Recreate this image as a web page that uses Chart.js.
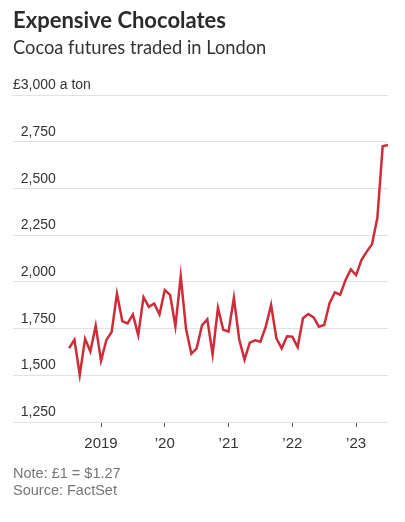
<!DOCTYPE html>
<html>
<head>
<meta charset="utf-8">
<script src="https://cdn.jsdelivr.net/npm/chart.js@4"></script>
<style>
  body { margin: 0; background: #fff; }
  #wrap { position: relative; width: 405px; height: 522px; overflow: hidden; }
  #grafica { position: absolute; left: 0; top: 0; }
  .txt { position: absolute; left: 13px; white-space: nowrap; color: #333; }
  #titulo { top: 6px; font: 700 22px "Lato", sans-serif; color: #2b2b2b; }
  #subtitulo { top: 35.5px; font: 400 18.3px "Lato", sans-serif; }
  .nota { font: 400 14.5px "Liberation Sans", sans-serif; color: #767676; }
  #nota1 { top: 465px; }
  #nota2 { top: 482px; }
</style>
</head>
<body>
<div id="wrap">
  <canvas id="grafica" width="405" height="522"></canvas>
  <div class="txt" id="titulo">Expensive Chocolates</div>
  <div class="txt" id="subtitulo">Cocoa futures traded in London</div>
  <div class="txt nota" id="nota1">Note: £1 = $1.27</div>
  <div class="txt nota" id="nota2">Source: FactSet</div>
</div>
<script>
// meses (categorias)
const meses = [
  "2018-07", "2018-08", "2018-09", "2018-10", "2018-11", "2018-12",
  "2019-01", "2019-02", "2019-03", "2019-04", "2019-05", "2019-06",
  "2019-07", "2019-08", "2019-09", "2019-10", "2019-11", "2019-12",
  "2020-01", "2020-02", "2020-03", "2020-04", "2020-05", "2020-06",
  "2020-07", "2020-08", "2020-09", "2020-10", "2020-11", "2020-12",
  "2021-01", "2021-02", "2021-03", "2021-04", "2021-05", "2021-06",
  "2021-07", "2021-08", "2021-09", "2021-10", "2021-11", "2021-12",
  "2022-01", "2022-02", "2022-03", "2022-04", "2022-05", "2022-06",
  "2022-07", "2022-08", "2022-09", "2022-10", "2022-11", "2022-12",
  "2023-01", "2023-02", "2023-03", "2023-04", "2023-05", "2023-06",
  "2023-07"
];

// precio del cacao, libras por tonelada
const precios = [
  1645, 1690, 1502, 1695, 1627, 1766,
  1578, 1688, 1732, 1937, 1790, 1778, 1826, 1715, 1918, 1866, 1884, 1826,
  1956, 1930, 1762, 2030, 1747, 1615, 1644, 1767, 1799, 1611, 1861, 1743,
  1734, 1915, 1693, 1584, 1675, 1687, 1680, 1760, 1877, 1698, 1644, 1709,
  1707, 1651, 1805, 1828, 1810, 1760, 1769, 1886, 1944, 1931, 2009, 2067,
  2036, 2117, 2162, 2202, 2343, 2726, 2732
];

const ticksY = [1250, 1500, 1750, 2000, 2250, 2500, 2750, 3000];
const ticksX = [2019, 2020, 2021, 2022, 2023];
const etiquetasX = ["2019", "\u201920", "\u201921", "\u201922", "\u201923"];

const fuente = '"Liberation Sans", "Arimo", sans-serif';

function mesANumero(m) {
  let partes = m.split("-");
  return Number(partes[0]) + (Number(partes[1]) - 1) / 12;
}

let puntos = meses.map((m, i) => ({ x: mesANumero(m), y: precios[i] }));

let ctx = document.getElementById("grafica").getContext("2d");

new Chart(ctx, {
  type: "line",
  data: {
    datasets: [{
      data: puntos,
      borderColor: "#cf2c3a",
      borderWidth: 2.5,
      pointRadius: 0,
      tension: 0,
      fill: false
    }]
  },
  options: {
    responsive: false,
    animation: false,
    layout: { padding: { left: 13, right: 17, top: 95, bottom: 72 } },
    plugins: { legend: { display: false }, tooltip: { enabled: false } },
    scales: {
      x: {
        type: "linear",
        min: 2017.62,
        max: 2023.5,
        afterBuildTicks: axis => { axis.ticks = ticksX.map(v => ({ value: v })); },
        afterFit: axis => { axis.height = 28; },
        border: { display: false },
        grid: { drawOnChartArea: false, drawTicks: true, tickLength: 5, tickColor: "#555", tickWidth: 1 },
        ticks: {
          autoSkip: false,
          maxRotation: 0,
          padding: 8,
          color: "#333",
          font: { family: fuente, size: 15 },
          callback: function (value) {
            let i = ticksX.indexOf(value);
            return i >= 0 ? etiquetasX[i] : null;
          }
        }
      },
      y: {
        min: 1250,
        max: 3000,
        afterBuildTicks: axis => { axis.ticks = ticksY.map(v => ({ value: v })); },
        border: { display: false },
        grid: { color: "#e2e2e2", lineWidth: 1, drawTicks: false },
        ticks: {
          mirror: true,
          padding: 0,
          labelOffset: -9.7,
          color: "#333",
          font: { family: fuente, size: 14 },
          callback: function (value) {
            let txt = value.toLocaleString("en-US");
            // los numeros se alinean despues del signo de libra
            return value === 3000 ? "£" + txt + " a ton" : "  " + txt;
          }
        }
      }
    }
  }
});
</script>
</body>
</html>
